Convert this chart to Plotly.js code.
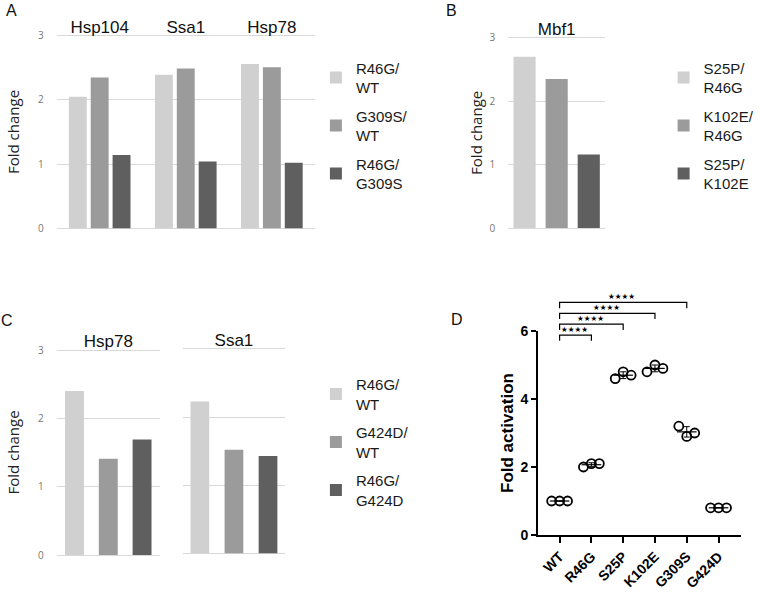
<!DOCTYPE html>
<html>
<head>
<meta charset="utf-8">
<script src="https://cdn.plot.ly/plotly-3.0.1.min.js"></script>
<style>
  html, body { margin: 0; padding: 0; background: #ffffff; }
  #chart { width: 760px; height: 593px; }
</style>
</head>
<body>
<div id="chart"></div>
<script>
// ---------------- Data ----------------
// Panel A
const genesA = ['Hsp104', 'Ssa1', 'Hsp78'];
const seriesA = ['R46G/<br>WT', 'G309S/<br>WT', 'R46G/<br>G309S'];
const r46gOverWT_A = [2.05, 2.39, 2.56];
const g309sOverWT_A = [2.35, 2.49, 2.51];
const r46gOverG309s_A = [1.14, 1.04, 1.02];

// Panel B
const genesB = ['Mbf1'];
const seriesB = ['S25P/<br>R46G', 'K102E/<br>R46G', 'S25P/<br>K102E'];
const s25pOverR46g_B = [2.70];
const k102eOverR46g_B = [2.35];
const s25pOverK102e_B = [1.16];

// Panel C
const genesC = ['Hsp78', 'Ssa1'];
const seriesC = ['R46G/<br>WT', 'G424D/<br>WT', 'R46G/<br>G424D'];
const r46gOverWT_C = [2.40, 2.23];
const g424dOverWT_C = [1.41, 1.52];
const r46gOverG424d_C = [1.69, 1.43];

// Panel D
const strainsD = ['WT', 'R46G', 'S25P', 'K102E', 'G309S', 'G424D'];
const rep1D = [1.0, 2.0, 4.6, 4.8, 3.2, 0.8];
const rep2D = [1.0, 2.1, 4.8, 5.0, 2.9, 0.8];
const rep3D = [1.0, 2.1, 4.7, 4.9, 3.0, 0.8];
const comparedD = ['R46G', 'S25P', 'K102E', 'G309S'];
const signifD = ['★★★★', '★★★★', '★★★★', '★★★★'];

// ---------------- Helpers / styles ----------------
const W = 760, H = 593;
const px = v => v / W;
const py = v => 1 - v / H;
const FONT = 'Liberation Sans, Arial, sans-serif';
const HFONT = 'Open Sans, Liberation Sans, sans-serif';
const shades = ['#d0d0d0', '#9b9b9b', '#5f5f5f'];
const GRID = '#d9d9d9';
const PAD = 0.02;

function yDomain(y0px, yTopPx, topVal) {
  const u = (y0px - yTopPx) / topVal;
  return [py(y0px + PAD * u), py(yTopPx - PAD * u)];
}

function makeBars(cats, names, valueSets, xa, ya, legendId, barw, step, showlegend) {
  return valueSets.map((vals, i) => ({
    type: 'bar',
    x: cats,
    y: vals,
    name: names[i],
    xaxis: xa,
    yaxis: ya,
    legend: legendId,
    legendgroup: legendId + '_' + i,
    showlegend: showlegend,
    width: barw,
    offset: (i - 1) * step - barw / 2,
    marker: { color: shades[i], line: { width: 0 } },
    hoverinfo: 'skip'
  }));
}

function barX(domPx, anchor, n) {
  return {
    domain: [px(domPx[0]), px(domPx[1])],
    anchor: anchor,
    type: 'category',
    range: [-0.5, n - 0.5],
    side: 'top',
    showgrid: false, zeroline: false, showline: false, ticks: '',
    ticklabelstandoff: -3,
    tickfont: { family: FONT, size: 17, color: '#111' },
    fixedrange: true
  };
}

function barY(dom, anchor, showLabels, standoff) {
  const ax = {
    domain: dom,
    anchor: anchor,
    range: [-PAD, 3 + PAD],
    tickvals: [0, 1, 2, 3],
    showgrid: true, gridcolor: GRID, gridwidth: 1,
    zeroline: false, showline: false, ticks: '',
    showticklabels: showLabels,
    ticklabelstandoff: 12,
    tickfont: { family: HFONT, size: 10, color: '#777' },
    fixedrange: true
  };
  if (showLabels) {
    ax.title = { text: 'Fold change', font: { family: HFONT, size: 15, color: '#222' }, standoff: standoff };
  }
  return ax;
}

// ---------------- Traces ----------------
const traces = [];
traces.push(...makeBars(genesA, seriesA, [r46gOverWT_A, g309sOverWT_A, r46gOverG309s_A],
  'x', 'y', 'legend', 0.208, 0.254, true));
traces.push(...makeBars(genesB, seriesB, [s25pOverR46g_B, k102eOverR46g_B, s25pOverK102e_B],
  'x2', 'y2', 'legend2', 0.229, 0.332, true));
const setsC = [r46gOverWT_C, g424dOverWT_C, r46gOverG424d_C];
traces.push(...makeBars(genesC.slice(0, 1), seriesC, setsC.map(a => a.slice(0, 1)),
  'x3', 'y3', 'legend3', 0.183, 0.327, true));
traces.push(...makeBars(genesC.slice(1, 2), seriesC, setsC.map(a => a.slice(1, 2)),
  'x4', 'y4', 'legend3', 0.183, 0.333, false));

// Panel D replicate points
[rep1D, rep2D, rep3D].forEach((r, i) => {
  traces.push({
    type: 'scatter', mode: 'markers',
    x: strainsD, y: r,
    xaxis: 'x5', yaxis: 'y5',
    offsetgroup: 'rep' + (i + 1),
    showlegend: false, cliponaxis: false, hoverinfo: 'skip',
    marker: { symbol: 'circle-open', size: 9, color: '#000', line: { width: 1.8, color: '#000' } }
  });
});
const meanD = strainsD.map((_, j) => (rep1D[j] + rep2D[j] + rep3D[j]) / 3);
const sdD = strainsD.map((_, j) => {
  const m = meanD[j];
  const v = [rep1D[j], rep2D[j], rep3D[j]].reduce((s, x) => s + (x - m) * (x - m), 0) / 2;
  return Math.sqrt(v);
});
traces.push({
  type: 'scatter', mode: 'markers',
  x: strainsD, y: meanD,
  xaxis: 'x5', yaxis: 'y5',
  offsetgroup: 'rep2',
  showlegend: false, cliponaxis: false, hoverinfo: 'skip',
  marker: { symbol: 'line-ew-open', size: 14, color: '#000', line: { width: 1.2, color: '#000' } },
  error_y: { type: 'data', array: sdD, visible: true, color: '#000', thickness: 1, width: 3 }
});

// ---------------- Layout ----------------
const domA = yDomain(228.3, 35.7, 3);
const domB = yDomain(228, 37.7, 3);
const domC1 = yDomain(555, 350, 3);
const domC2 = yDomain(553.3, 349, 3);
const domD = [py(535), py(331)];
const rangeD = [0, 6];
const yPaperD = v => domD[0] + (v - rangeD[0]) / (rangeD[1] - rangeD[0]) * (domD[1] - domD[0]);

const legendBase = {
  xanchor: 'left', yanchor: 'top',
  bgcolor: 'rgba(0,0,0,0)', borderwidth: 0,
  font: { family: FONT, size: 15, color: '#1a1a1a' },
  tracegroupgap: 6, traceorder: 'grouped', valign: 'middle',
  itemclick: false, itemdoubleclick: false
};

const shapes = [];
const annotations = [];
const bracketBase = 5.88, bracketStep = 0.32, bracketLeg = 0.17;
comparedD.forEach((name, k) => {
  const t = strainsD.indexOf(name);
  const yH = yPaperD(bracketBase + k * bracketStep);
  const yL = yPaperD(bracketBase + k * bracketStep - bracketLeg);
  shapes.push({
    type: 'path', xref: 'x5', yref: 'paper',
    path: `M 0,${yL} L 0,${yH} L ${t},${yH} L ${t},${yL}`,
    line: { color: '#000', width: 1.2 }
  });
  annotations.push({
    xref: 'x5', yref: 'paper', x: t / 2 - 0.04, y: yH,
    xanchor: 'center', yanchor: 'middle', yshift: 5.5,
    text: signifD[k], showarrow: false, borderpad: 0,
    font: { family: 'DejaVu Sans, sans-serif', size: 7.5, color: '#000' }
  });
});

[['A', 12, 10], ['B', 454, 10], ['C', 7, 320], ['D', 460, 319]].forEach(([lbl, x, y]) => {
  annotations.push({
    xref: 'paper', yref: 'paper', x: px(x), y: py(y),
    xanchor: 'center', yanchor: 'middle', text: lbl, showarrow: false,
    font: { family: FONT, size: 16, color: '#111' }
  });
});

const axisBlack = { showline: true, linewidth: 2, linecolor: '#000', ticks: 'outside', tickwidth: 2, tickcolor: '#000' };

const layout = {
  width: W, height: H,
  margin: { l: 0, r: 0, t: 0, b: 0, pad: 0 },
  paper_bgcolor: '#ffffff', plot_bgcolor: 'rgba(0,0,0,0)',
  font: { family: FONT, color: '#222' },
  barmode: 'group',
  scattermode: 'group', scattergap: 0.25,
  showlegend: true,
  hovermode: false,

  xaxis: barX([57, 317], 'y', genesA.length),
  yaxis: barY(domA, 'x', true, 14),
  xaxis2: barX([511.7, 609], 'y2', genesB.length),
  yaxis2: barY(domB, 'x2', true, 3),
  xaxis3: barX([57, 161], 'y3', 1),
  yaxis3: barY(domC1, 'x3', true, 14),
  xaxis4: barX([184, 287], 'y4', 1),
  yaxis4: barY(domC2, 'x4', false, 0),

  xaxis5: Object.assign({
    domain: [px(541.7), px(745.7)], anchor: 'y5',
    type: 'category', categoryorder: 'array', categoryarray: strainsD,
    range: [-0.675, 5.7],
    ticklen: 6, tickangle: -45,
    tickfont: { family: FONT, size: 14, weight: 'bold', color: '#000' },
    showgrid: false, zeroline: false, fixedrange: true
  }, axisBlack),
  yaxis5: Object.assign({
    domain: domD, anchor: 'x5',
    range: rangeD, tickvals: [0, 2, 4, 6],
    ticklen: 5,
    tickfont: { family: FONT, size: 14, weight: 'bold', color: '#000' },
    showgrid: false, zeroline: false, fixedrange: true,
    title: { text: 'Fold activation', font: { family: FONT, size: 17, weight: 'bold', color: '#000' }, standoff: 3 }
  }, axisBlack),

  legend: Object.assign({ x: px(318), y: py(51.5) }, legendBase),
  legend2: Object.assign({ x: px(668), y: py(51.5) }, legendBase),
  legend3: Object.assign({ x: px(318), y: py(368) }, legendBase),

  shapes: shapes,
  annotations: annotations
};

Plotly.newPlot('chart', traces, layout, { displayModeBar: false, staticPlot: true });
</script>
</body>
</html>
